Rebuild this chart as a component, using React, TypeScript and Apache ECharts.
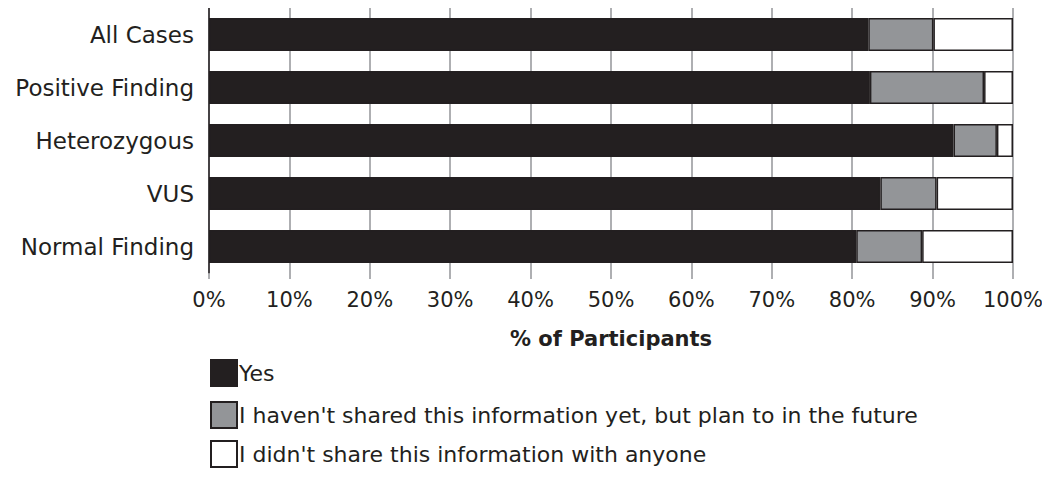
import React, { useEffect, useRef } from "react";
import * as echarts from "echarts";

const categories = ["All Cases", "Positive Finding", "Heterozygous", "VUS", "Normal Finding"];
const yesValues = [82.0, 82.2, 92.6, 83.5, 80.5];
const planValues = [8.1, 14.2, 5.4, 7.0, 8.2];
const notValues = [9.9, 3.6, 2.0, 9.5, 11.3];
const seriesNames = [
  "Yes",
  "I haven't shared this information yet, but plan to in the future",
  "I didn't share this information with anyone",
];
const xTicks = { min: 0, max: 100, interval: 10 };

const FONT = "DejaVu Sans";
const INK = "#231f20";
const GRAY = "#939598";

export default function App() {
  const ref = useRef<HTMLDivElement>(null);
  useEffect(() => {
    const chart = echarts.init(ref.current!, null, { renderer: "svg" });
    const mk = (name: string, data: number[], color: string) => ({
      name,
      type: "bar",
      stack: "total",
      barWidth: 33,
      data,
      itemStyle: { color, borderColor: INK, borderWidth: 1.5 },
    });
    const legendTops = [354, 396, 435];
    chart.setOption({
      animation: false,
      textStyle: { fontFamily: FONT, color: INK },
      grid: { left: 209, right: 37, top: 8, height: 265, containLabel: false },
      xAxis: {
        type: "value",
        min: xTicks.min,
        max: xTicks.max,
        interval: xTicks.interval,
        name: "% of Participants",
        nameLocation: "middle",
        nameGap: 55,
        nameTextStyle: { fontFamily: FONT, fontSize: 21, fontWeight: "bold", color: INK },
        axisLine: { show: false },
        axisTick: { show: true, length: 6, lineStyle: { color: GRAY, width: 1.5 } },
        splitLine: { show: true, lineStyle: { color: GRAY, width: 1.5 } },
        axisLabel: { formatter: "{value}%", fontFamily: FONT, fontSize: 21, color: INK, margin: 16 },
      },
      yAxis: {
        type: "category",
        data: categories,
        inverse: true,
        axisLine: { show: true, lineStyle: { color: INK, width: 1.5 } },
        axisTick: { show: false },
        axisLabel: { fontFamily: FONT, fontSize: 23, color: INK, margin: 15 },
      },
      legend: seriesNames.map((n, i) => ({
        left: 205,
        top: legendTops[i],
        itemWidth: 26,
        itemHeight: 26,
        icon: "rect",
        textStyle: { fontFamily: FONT, fontSize: 22, color: INK, padding: [0, 0, 0, -3] },
        data: [n],
      })),
      series: [
        mk(seriesNames[0], yesValues, INK),
        mk(seriesNames[1], planValues, GRAY),
        mk(seriesNames[2], notValues, "#ffffff"),
      ],
    });
    return () => chart.dispose();
  }, []);
  return <div ref={ref} style={{ width: 1050, height: 479, margin: -8 }} />;
}
